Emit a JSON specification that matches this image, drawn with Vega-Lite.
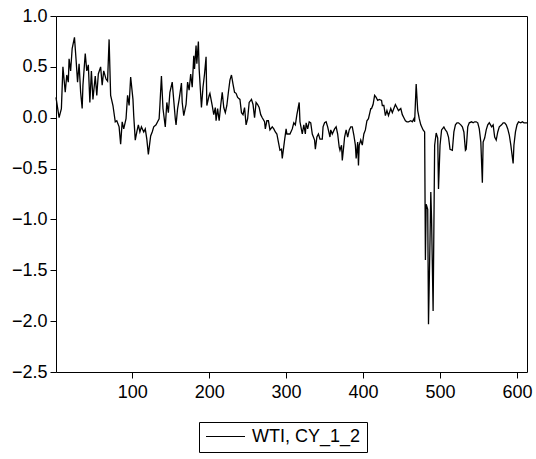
{
"$schema": "https://vega.github.io/schema/vega-lite/v6.json",
"width": 471, "height": 356,
"autosize": {"type": "none"},
"padding": {"left": 56, "top": 16, "right": 9, "bottom": 87},
"background": "white",
"config": {"view": {"stroke": "black", "strokeWidth": 1}, "font": "Liberation Sans"},
"data": {"values": [
{"t":1,"v":0.20},{"t":5,"v":0.00},{"t":8,"v":0.09},{"t":10,"v":0.50},{"t":13,"v":0.25},{"t":15,"v":0.42},{"t":17,"v":0.35},{"t":18,"v":0.58},{"t":20,"v":0.46},{"t":22,"v":0.68},{"t":25,"v":0.79},{"t":27,"v":0.58},{"t":29,"v":0.35},{"t":31,"v":0.53},{"t":33,"v":0.25},{"t":35,"v":0.09},{"t":36,"v":0.32},{"t":39,"v":0.63},{"t":41,"v":0.46},{"t":43,"v":0.52},{"t":45,"v":0.15},{"t":47,"v":0.46},{"t":49,"v":0.18},{"t":52,"v":0.41},{"t":54,"v":0.22},{"t":56,"v":0.43},{"t":59,"v":0.50},{"t":61,"v":0.32},{"t":63,"v":0.46},{"t":66,"v":0.38},{"t":68,"v":0.36},{"t":70,"v":0.77},{"t":72,"v":0.22},{"t":75,"v":0.12},{"t":78,"v":-0.04},{"t":80,"v":-0.03},{"t":83,"v":-0.09},{"t":85,"v":-0.26},{"t":87,"v":-0.04},{"t":89,"v":-0.11},{"t":92,"v":-0.01},{"t":94,"v":0.22},{"t":96,"v":0.12},{"t":98,"v":0.40},{"t":101,"v":0.18},{"t":102,"v":0.02},{"t":104,"v":-0.22},{"t":106,"v":-0.14},{"t":108,"v":-0.07},{"t":110,"v":-0.14},{"t":112,"v":-0.09},{"t":115,"v":-0.14},{"t":117,"v":-0.11},{"t":119,"v":-0.21},{"t":121,"v":-0.36},{"t":124,"v":-0.18},{"t":126,"v":-0.14},{"t":128,"v":-0.09},{"t":131,"v":-0.07},{"t":133,"v":-0.04},{"t":135,"v":-0.01},{"t":136,"v":0.12},{"t":138,"v":0.41},{"t":140,"v":0.09},{"t":143,"v":-0.09},{"t":145,"v":0.15},{"t":147,"v":0.05},{"t":149,"v":0.25},{"t":152,"v":0.35},{"t":156,"v":-0.01},{"t":157,"v":-0.07},{"t":159,"v":0.09},{"t":161,"v":0.18},{"t":164,"v":0.34},{"t":165,"v":0.15},{"t":167,"v":0.02},{"t":170,"v":0.13},{"t":172,"v":0.35},{"t":174,"v":0.27},{"t":176,"v":0.43},{"t":178,"v":0.30},{"t":180,"v":0.61},{"t":181,"v":0.48},{"t":183,"v":0.71},{"t":184,"v":0.53},{"t":186,"v":0.75},{"t":187,"v":0.48},{"t":190,"v":0.10},{"t":192,"v":0.30},{"t":194,"v":0.43},{"t":196,"v":0.60},{"t":197,"v":0.12},{"t":200,"v":0.22},{"t":201,"v":0.24},{"t":204,"v":0.12},{"t":206,"v":0.03},{"t":208,"v":0.10},{"t":209,"v":-0.03},{"t":211,"v":0.09},{"t":213,"v":-0.03},{"t":215,"v":0.12},{"t":217,"v":0.25},{"t":219,"v":0.10},{"t":221,"v":0.05},{"t":223,"v":0.12},{"t":225,"v":0.25},{"t":227,"v":0.37},{"t":229,"v":0.42},{"t":231,"v":0.33},{"t":233,"v":0.25},{"t":235,"v":0.24},{"t":237,"v":0.20},{"t":240,"v":0.18},{"t":242,"v":0.05},{"t":244,"v":0.03},{"t":246,"v":0.10},{"t":248,"v":-0.07},{"t":250,"v":-0.01},{"t":252,"v":0.15},{"t":255,"v":0.18},{"t":257,"v":0.13},{"t":259,"v":0.00},{"t":261,"v":0.15},{"t":263,"v":0.13},{"t":265,"v":0.10},{"t":267,"v":0.03},{"t":269,"v":0.00},{"t":272,"v":-0.04},{"t":273,"v":-0.11},{"t":275,"v":-0.03},{"t":277,"v":-0.03},{"t":279,"v":-0.12},{"t":282,"v":-0.09},{"t":284,"v":-0.11},{"t":286,"v":-0.14},{"t":288,"v":-0.16},{"t":290,"v":-0.24},{"t":292,"v":-0.32},{"t":294,"v":-0.31},{"t":295,"v":-0.40},{"t":298,"v":-0.22},{"t":300,"v":-0.11},{"t":301,"v":-0.16},{"t":303,"v":-0.16},{"t":305,"v":-0.16},{"t":308,"v":-0.11},{"t":310,"v":-0.05},{"t":312,"v":-0.07},{"t":314,"v":0.03},{"t":317,"v":0.15},{"t":318,"v":-0.04},{"t":321,"v":-0.16},{"t":323,"v":-0.07},{"t":325,"v":-0.16},{"t":326,"v":-0.05},{"t":328,"v":-0.11},{"t":330,"v":-0.04},{"t":332,"v":-0.05},{"t":334,"v":-0.16},{"t":337,"v":-0.22},{"t":338,"v":-0.31},{"t":340,"v":-0.19},{"t":342,"v":-0.16},{"t":344,"v":-0.21},{"t":347,"v":-0.21},{"t":348,"v":-0.09},{"t":350,"v":-0.05},{"t":352,"v":-0.04},{"t":354,"v":-0.09},{"t":357,"v":-0.19},{"t":358,"v":-0.12},{"t":360,"v":-0.16},{"t":363,"v":-0.11},{"t":365,"v":-0.09},{"t":367,"v":-0.16},{"t":369,"v":-0.29},{"t":370,"v":-0.32},{"t":372,"v":-0.27},{"t":373,"v":-0.42},{"t":375,"v":-0.27},{"t":376,"v":-0.19},{"t":378,"v":-0.12},{"t":380,"v":-0.19},{"t":382,"v":-0.12},{"t":384,"v":-0.09},{"t":386,"v":-0.09},{"t":388,"v":-0.17},{"t":390,"v":-0.27},{"t":391,"v":-0.40},{"t":393,"v":-0.24},{"t":394,"v":-0.47},{"t":395,"v":-0.27},{"t":397,"v":-0.22},{"t":399,"v":-0.27},{"t":401,"v":-0.16},{"t":403,"v":-0.12},{"t":405,"v":-0.03},{"t":407,"v":-0.01},{"t":410,"v":0.09},{"t":411,"v":0.09},{"t":413,"v":0.13},{"t":415,"v":0.22},{"t":417,"v":0.20},{"t":419,"v":0.17},{"t":421,"v":0.18},{"t":424,"v":0.17},{"t":425,"v":0.12},{"t":427,"v":0.12},{"t":429,"v":0.02},{"t":431,"v":0.07},{"t":433,"v":0.02},{"t":436,"v":0.09},{"t":438,"v":0.05},{"t":440,"v":0.09},{"t":442,"v":0.13},{"t":444,"v":0.10},{"t":446,"v":0.07},{"t":449,"v":0.09},{"t":451,"v":0.03},{"t":453,"v":0.00},{"t":455,"v":-0.03},{"t":457,"v":-0.04},{"t":459,"v":-0.04},{"t":462,"v":-0.03},{"t":464,"v":-0.04},{"t":466,"v":-0.01},{"t":467,"v":-0.04},{"t":469,"v":0.33},{"t":471,"v":0.07},{"t":473,"v":-0.01},{"t":475,"v":-0.07},{"t":478,"v":-0.12},{"t":480,"v":-0.14},{"t":481,"v":-1.40},{"t":482,"v":-0.85},{"t":484,"v":-0.90},{"t":485,"v":-2.03},{"t":487,"v":-1.20},{"t":488,"v":-0.73},{"t":489,"v":-1.00},{"t":491,"v":-1.90},{"t":493,"v":-0.27},{"t":495,"v":-0.15},{"t":497,"v":-0.20},{"t":498,"v":-0.70},{"t":500,"v":-0.27},{"t":502,"v":-0.12},{"t":505,"v":-0.09},{"t":507,"v":-0.12},{"t":509,"v":-0.14},{"t":511,"v":-0.19},{"t":513,"v":-0.31},{"t":516,"v":-0.32},{"t":518,"v":-0.14},{"t":520,"v":-0.07},{"t":522,"v":-0.05},{"t":524,"v":-0.05},{"t":527,"v":-0.07},{"t":529,"v":-0.09},{"t":531,"v":-0.14},{"t":533,"v":-0.32},{"t":534,"v":-0.31},{"t":536,"v":-0.09},{"t":538,"v":-0.05},{"t":541,"v":-0.04},{"t":543,"v":-0.05},{"t":545,"v":-0.04},{"t":547,"v":-0.04},{"t":549,"v":-0.05},{"t":551,"v":-0.11},{"t":553,"v":-0.24},{"t":555,"v":-0.64},{"t":556,"v":-0.24},{"t":558,"v":-0.20},{"t":560,"v":-0.12},{"t":562,"v":-0.07},{"t":564,"v":-0.05},{"t":567,"v":-0.09},{"t":569,"v":-0.07},{"t":571,"v":-0.19},{"t":573,"v":-0.22},{"t":575,"v":-0.14},{"t":577,"v":-0.09},{"t":580,"v":-0.07},{"t":582,"v":-0.05},{"t":584,"v":-0.05},{"t":586,"v":-0.07},{"t":588,"v":-0.11},{"t":590,"v":-0.17},{"t":592,"v":-0.27},{"t":595,"v":-0.45},{"t":596,"v":-0.27},{"t":598,"v":-0.14},{"t":600,"v":-0.07},{"t":602,"v":-0.04},{"t":605,"v":-0.05},{"t":607,"v":-0.04},{"t":609,"v":-0.05},{"t":611,"v":-0.05},{"t":613,"v":-0.05}
]},
"mark": {"type": "line", "strokeWidth": 1.3, "interpolate": "linear"},
"encoding": {
"x": {"field": "t", "type": "quantitative", "scale": {"domain": [1, 613], "nice": false, "zero": false},
  "axis": {"title": null, "values": [100, 200, 300, 400, 500, 600], "format": "d", "grid": false, "domain": false, "tickColor": "black", "tickSize": 6, "labelFontSize": 18, "labelColor": "black", "labelPadding": 5, "labelFlush": false, "labelFont": "Liberation Sans"}},
"y": {"field": "v", "type": "quantitative", "scale": {"domain": [-2.5, 1.0], "nice": false, "zero": false},
  "axis": {"title": null, "values": [-2.5, -2, -1.5, -1, -0.5, 0, 0.5, 1], "format": ".1f", "grid": false, "domain": false, "tickColor": "black", "tickSize": 6, "labelFontSize": 18, "labelColor": "black", "labelPadding": 3, "labelFont": "Liberation Sans"}},
"color": {"datum": "WTI, CY_1_2", "type": "nominal", "scale": {"range": ["black"]},
  "legend": {"title": null, "orient": "none", "legendX": 143, "legendY": 406, "strokeColor": "black", "fillColor": "white", "padding": 6, "clipHeight": 17, "symbolType": "stroke", "symbolSize": 1521, "symbolStrokeWidth": 1.2, "labelFontSize": 18, "labelColor": "black", "labelFont": "Liberation Sans", "labelOffset": 6}}
}
}
